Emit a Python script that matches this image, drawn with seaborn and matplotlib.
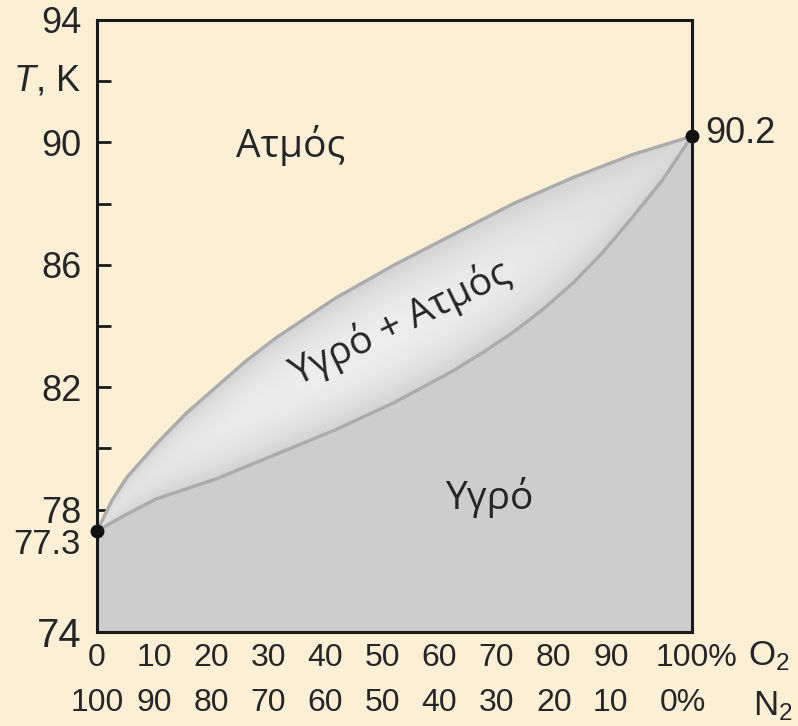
import numpy as np
import pandas as pd
import matplotlib
matplotlib.use("Agg")
import matplotlib.pyplot as plt
import seaborn as sns
from matplotlib.colors import LinearSegmentedColormap
from matplotlib.transforms import ScaledTranslation

# O2 mole percent and boiling/condensation temperatures (K)
o2_liq = [0, 5, 10, 20, 30, 40, 50, 60, 65, 70, 75, 80, 85, 90, 95, 100]
t_liquid = [77.3, 77.85, 78.35, 79.0, 79.8, 80.6, 81.5, 82.55, 83.15, 83.8, 84.55,
            85.4, 86.4, 87.55, 88.75, 90.2]
o2_vap = [0, 2.5, 5, 10, 15, 20, 25, 30, 40, 50, 60, 70, 80, 90, 95, 100]
t_vapor = [77.3, 78.3, 79.05, 80.15, 81.15, 82.0, 82.85, 83.6, 84.9, 86.0, 87.0,
           88.0, 88.85, 89.6, 89.9, 90.2]

x_ticks = [0, 10, 20, 30, 40, 50, 60, 70, 80, 90, 100]
o2_labels = ["0", "10", "20", "30", "40", "50", "60", "70", "80", "90", "100%"]
n2_labels = ["100", "90", "80", "70", "60", "50", "40", "30", "20", "10", "0%"]
y_ticks = [74, 78, 82, 86, 90, 94]
y_minor = [76, 80, 84, 88, 92]

bg = "#fbefd6"

sns.set_style("ticks")
plt.rcParams["font.family"] = ["Liberation Sans", "DejaVu Sans"]
plt.rcParams["mathtext.fontset"] = "custom"
plt.rcParams["mathtext.rm"] = "Liberation Sans"
plt.rcParams["mathtext.it"] = "Liberation Sans:italic"

fig = plt.figure(figsize=(7.98, 7.26), dpi=100, facecolor=bg)
ax = fig.add_axes([0.1216, 0.1295, 0.7454, 0.843])
ax.set_facecolor(bg)

liq = pd.DataFrame({"o2": o2_liq, "T": t_liquid})
vap = pd.DataFrame({"o2": o2_vap, "T": t_vapor})

# common grid for the filled regions
gx = np.union1d(o2_liq, o2_vap)
lo_line = np.interp(gx, o2_liq, t_liquid)
hi_line = np.interp(gx, o2_vap, t_vapor)

# liquid region
ax.fill_between(gx, 74, lo_line, color="#cdcdcd", lw=0, zorder=1)

# two-phase lens with soft gradient (lighter in the middle)
lens = ax.fill_between(gx, lo_line, hi_line, color="none", lw=0, zorder=2)
mx = np.linspace(0, 100, 400)
my = np.linspace(74, 94, 400)
GX, GY = np.meshgrid(mx, my)
lo = np.interp(GX, o2_liq, t_liquid)
hi = np.interp(GX, o2_vap, t_vapor)
t = np.clip((GY - lo) / np.maximum(hi - lo, 1e-6), 0, 1)
w = (1 - (2 * t - 1) ** 2) * (1 - ((GX - 45) / 60) ** 2).clip(0, 1)
cmap = LinearSegmentedColormap.from_list("lens", ["#d3d3d3", "#eeeeee"])
img = ax.imshow(w, extent=[0, 100, 74, 94], origin="lower", cmap=cmap,
                vmin=0, vmax=1, aspect="auto", zorder=2, interpolation="bilinear")
img.set_clip_path(lens.get_paths()[0], transform=ax.transData)

sns.lineplot(data=liq, x="o2", y="T", ax=ax, color="#acacac", lw=2.4, zorder=3)
sns.lineplot(data=vap, x="o2", y="T", ax=ax, color="#acacac", lw=2.4, zorder=3)

# pure-component boiling points
ax.plot([o2_liq[0], o2_liq[-1]], [t_liquid[0], t_liquid[-1]], "o", color="#111111",
        ms=9, zorder=6, clip_on=False)

ax.set_xlim(0, 100)
ax.set_ylim(74, 94)
ax.set_xlabel("")
ax.set_ylabel("")

for s in ax.spines.values():
    s.set_linewidth(2.2)
    s.set_color("#1a1a1a")
    s.set_zorder(5)

ax.set_yticks(y_ticks)
ax.set_yticks(y_minor, minor=True)
ax.set_yticklabels([str(v) for v in y_ticks])
ax.tick_params(axis="y", which="both", direction="in", length=10, width=2,
               color="#1a1a1a", labelsize=26, pad=11, right=False)
ax.yaxis.get_ticklabels()[0].set_fontsize(29)

# first row: O2 percent
ax.set_xticks(x_ticks)
ax.set_xticklabels(o2_labels)
ax.tick_params(axis="x", which="both", direction="in", length=10, width=2,
               color="#1a1a1a", labelsize=23, pad=8, top=False)

# second row: N2 percent
sec = ax.secondary_xaxis("bottom", functions=(lambda v: v, lambda v: v))
sec.set_xticks(x_ticks)
sec.set_xticklabels(n2_labels)
sec.tick_params(axis="x", length=0, labelsize=23, pad=40)
sec.spines["bottom"].set_visible(False)

# the original lays its number rows out slightly tighter than the ticks
def nudge(axis, last_dx):
    ticks = axis.get_major_ticks()
    for i, tk in enumerate(ticks):
        dx = last_dx if i == len(ticks) - 1 else -2.4 * i
        tk.label1.set_transform(tk.label1.get_transform()
                                + ScaledTranslation(dx / 100, 0, fig.dpi_scale_trans))

# extra labels
ax.text(-0.027, 92, "$T$, K", transform=ax.get_yaxis_transform(), ha="right",
        va="center", fontsize=26)
ax.text(-0.027, 76.85, "77.3", transform=ax.get_yaxis_transform(), ha="right",
        va="center", fontsize=25)
ax.text(102.2, 90.3, "90.2", ha="left", va="center", fontsize=26, clip_on=False)
ax.text(1.094, -0.054, "O$_2$", transform=ax.transAxes, ha="left", va="baseline",
        fontsize=25)
ax.text(1.103, -0.136, "N$_2$", transform=ax.transAxes, ha="left", va="baseline",
        fontsize=25)

ax.text(32.6, 89.9, "Ατμός", ha="center", va="center", fontsize=28,
        family=["Open Sans", "DejaVu Sans"], zorder=7)
ax.text(66, 78.4, "Υγρό", ha="center", va="center", fontsize=28,
        family=["Open Sans", "DejaVu Sans"], zorder=7)
ax.text(50.9, 84.1, "Υγρό + Ατμός", ha="center", va="center", fontsize=28,
        rotation=26, rotation_mode="anchor",
        family=["Open Sans", "DejaVu Sans"], zorder=7)

nudge(ax.xaxis, 5)
nudge(sec.xaxis, -9)

fig.savefig("out.png", dpi=100, facecolor=bg)
